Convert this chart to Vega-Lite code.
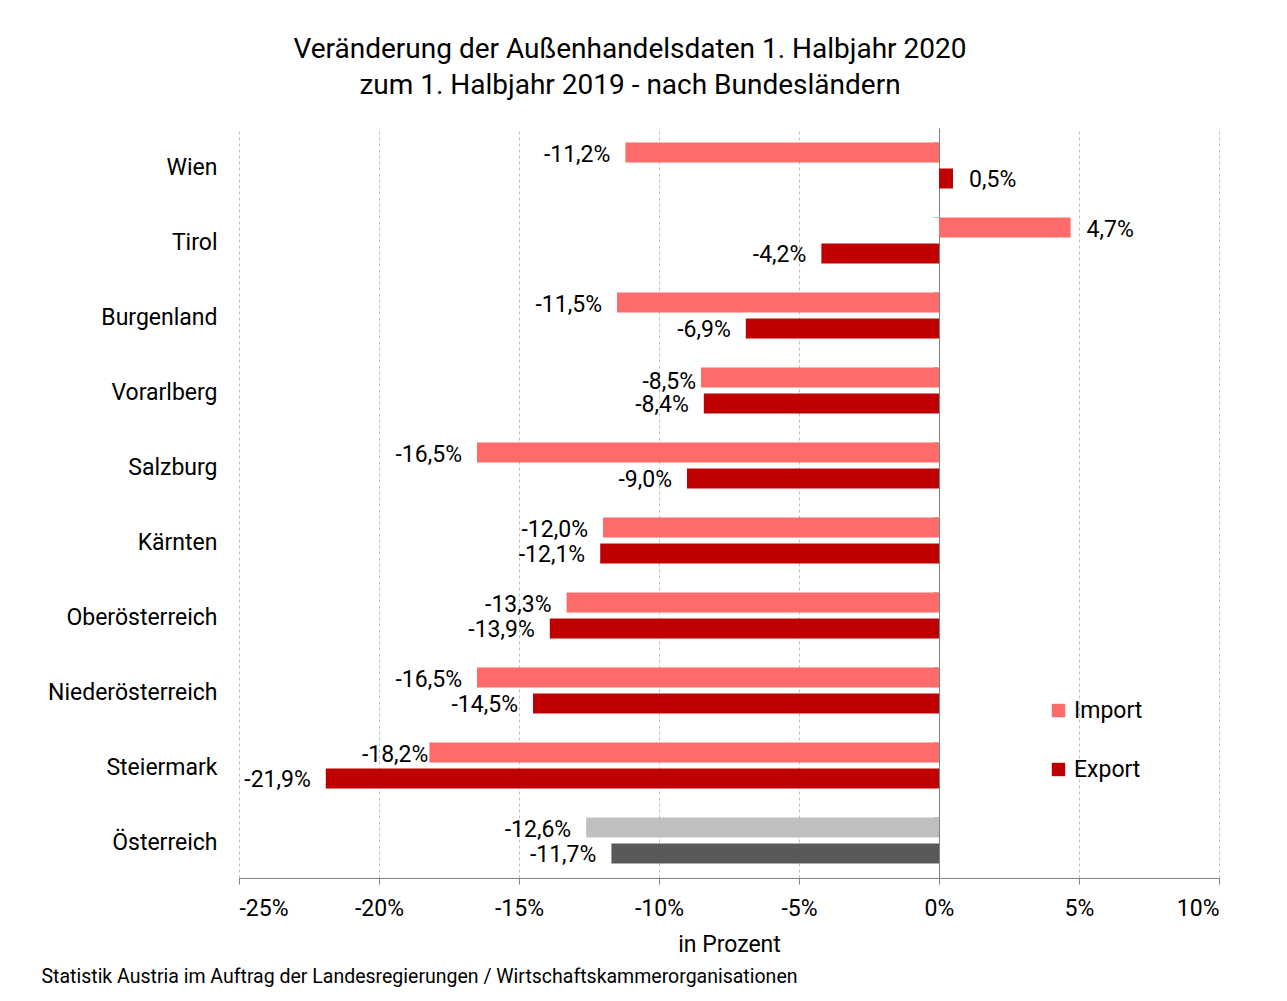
{
  "$schema": "https://vega.github.io/schema/vega-lite/v6.json",
  "width": 980,
  "height": 750,
  "autosize": {"type": "none"},
  "padding": {"left": 239, "top": 128, "right": 68, "bottom": 123},
  "background": "white",
  "config": {
    "font": "Roboto",
    "locale": {"number": {"decimal": ",", "thousands": ".", "grouping": [3], "currency": ["", " €"], "minus": "-"}},
    "view": {"stroke": null},
    "text": {"font": "Roboto", "fontSize": 23, "color": "#000"}
  },
  "title": {
    "text": ["Veränderung der Außenhandelsdaten 1. Halbjahr 2020", "zum 1. Halbjahr 2019 - nach Bundesländern"],
    "fontSize": 28,
    "fontWeight": "normal",
    "font": "Roboto",
    "color": "#000",
    "lineHeight": 36,
    "anchor": "middle",
    "dx": -99,
    "offset": 28
  },
  "data": {"values": [
    {"land": "Wien", "typ": "Import", "wert": -0.112},
    {"land": "Wien", "typ": "Export", "wert": 0.005},
    {"land": "Tirol", "typ": "Import", "wert": 0.047},
    {"land": "Tirol", "typ": "Export", "wert": -0.042},
    {"land": "Burgenland", "typ": "Import", "wert": -0.115},
    {"land": "Burgenland", "typ": "Export", "wert": -0.069},
    {"land": "Vorarlberg", "typ": "Import", "wert": -0.085},
    {"land": "Vorarlberg", "typ": "Export", "wert": -0.084},
    {"land": "Salzburg", "typ": "Import", "wert": -0.165},
    {"land": "Salzburg", "typ": "Export", "wert": -0.090},
    {"land": "Kärnten", "typ": "Import", "wert": -0.120},
    {"land": "Kärnten", "typ": "Export", "wert": -0.121},
    {"land": "Oberösterreich", "typ": "Import", "wert": -0.133},
    {"land": "Oberösterreich", "typ": "Export", "wert": -0.139},
    {"land": "Niederösterreich", "typ": "Import", "wert": -0.165},
    {"land": "Niederösterreich", "typ": "Export", "wert": -0.145},
    {"land": "Steiermark", "typ": "Import", "wert": -0.182},
    {"land": "Steiermark", "typ": "Export", "wert": -0.219},
    {"land": "Österreich", "typ": "Import", "wert": -0.126},
    {"land": "Österreich", "typ": "Export", "wert": -0.117}
  ]},
  "encoding": {
    "y": {
      "field": "land",
      "type": "nominal",
      "sort": null,
      "scale": {"paddingInner": 0.387, "paddingOuter": 0.1935},
      "axis": null
    },
    "yOffset": {
      "field": "typ",
      "type": "nominal",
      "scale": {"domain": ["Import", "Export"], "paddingInner": 0.23, "paddingOuter": 0}
    },
    "x": {
      "field": "wert",
      "type": "quantitative",
      "scale": {"domain": [-0.25, 0.10], "nice": false, "zero": false},
      "axis": null
    }
  },
  "layer": [
    {
      "mark": {"type": "bar"},
      "encoding": {
        "y": {
          "field": "land", "type": "nominal", "sort": null,
          "scale": {"paddingInner": 0.387, "paddingOuter": 0.1935},
          "axis": {"title": null, "domain": false, "ticks": false, "labelPadding": 22, "labelOffset": 2, "labelFontSize": 23, "labelColor": "#000", "labelFont": "Roboto"}
        },
        "x": {
          "field": "wert", "type": "quantitative",
          "scale": {"domain": [-0.25, 0.10], "nice": false, "zero": false},
          "axis": {
            "title": "in Prozent",
            "titleFontSize": 23, "titleFontWeight": "normal", "titleColor": "#000", "titleFont": "Roboto", "titlePadding": 13,
            "values": [-0.25, -0.2, -0.15, -0.1, -0.05, 0, 0.05, 0.1],
            "format": ".0%",
            "labelFontSize": 23, "labelColor": "#000", "labelFont": "Roboto", "labelPadding": 13,
            "domainColor": "#808080", "tickColor": "#808080", "tickSize": 6,
            "grid": true,
            "gridColor": {"condition": {"test": "datum.value === 0", "value": "#808080"}, "value": "#BFBFBF"},
            "gridDash": {"condition": {"test": "datum.value === 0", "value": []}, "value": [3, 3]},
            "gridWidth": 1
          }
        },
        "color": {
          "condition": [
            {"test": "datum.land === 'Österreich' && datum.typ === 'Import'", "value": "#BFBFBF"},
            {"test": "datum.land === 'Österreich' && datum.typ === 'Export'", "value": "#595959"}
          ],
          "field": "typ", "type": "nominal",
          "scale": {"domain": ["Import", "Export"], "range": ["#FF6B6B", "#C00000"]},
          "legend": {
            "title": null, "orient": "none", "legendX": 808, "legendY": 571,
            "symbolType": "square", "symbolSize": 180, "symbolStrokeWidth": 0,
            "labelFontSize": 23, "labelFont": "Roboto", "labelColor": "#000",
            "rowPadding": 35, "labelOffset": 4
          }
        }
      }
    },
    {
      "transform": [{"filter": "datum.wert < 0 && !(datum.land === 'Steiermark' && datum.typ === 'Import') && !(datum.land === 'Vorarlberg' && datum.typ === 'Import')"}],
      "mark": {"type": "text", "align": "right", "baseline": "middle", "dx": -15, "dy": 2},
      "encoding": {
        "text": {"field": "wert", "type": "quantitative", "format": ".1%"},
        "y": {
          "field": "land", "type": "nominal", "sort": null,
          "scale": {"paddingInner": 0.387, "paddingOuter": 0.1935},
          "axis": {"title": null, "orient": "left", "offset": -700, "labels": false, "domain": false, "ticks": true, "tickSize": 6, "tickColor": "#BFBFBF", "bandPosition": 0, "grid": false}
        },
        "x": {
          "field": "wert", "type": "quantitative",
          "scale": {"domain": [-0.25, 0.10], "nice": false, "zero": false},
          "axis": {"orient": "bottom", "title": "Statistik Austria im Auftrag der Landesregierungen / Wirtschaftskammerorganisationen", "labels": false, "ticks": false, "domain": false, "grid": false, "titleAnchor": "start", "titleAlign": "left", "titleX": -198, "titleY": 89, "titleFontSize": 19.5, "titleFontWeight": "normal", "titleFont": "Roboto", "titleColor": "#000"}
        }
      }
    },
    {
      "transform": [{"filter": "datum.land === 'Steiermark' && datum.typ === 'Import'"}],
      "mark": {"type": "text", "align": "right", "baseline": "middle", "dx": -1, "dy": 2},
      "encoding": {"text": {"field": "wert", "type": "quantitative", "format": ".1%"}}
    },
    {
      "transform": [{"filter": "datum.land === 'Vorarlberg' && datum.typ === 'Import'"}],
      "mark": {"type": "text", "align": "right", "baseline": "middle", "dx": -5, "dy": 4},
      "encoding": {"text": {"field": "wert", "type": "quantitative", "format": ".1%"}}
    },
    {
      "transform": [{"filter": "datum.wert >= 0"}],
      "mark": {"type": "text", "align": "left", "baseline": "middle", "dx": 16, "dy": 2},
      "encoding": {"text": {"field": "wert", "type": "quantitative", "format": ".1%"}}
    }
  ],
  "resolve": {"axis": {"x": "independent", "y": "independent"}}
}
